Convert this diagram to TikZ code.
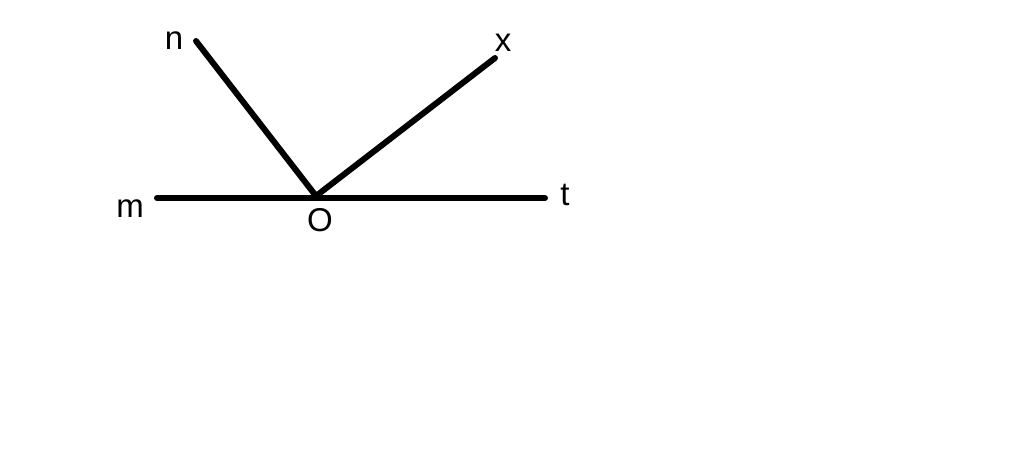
\documentclass[tikz,border=0pt]{standalone}
\usepackage{fontspec}
\setmainfont{Liberation Sans}
\begin{document}
\begin{tikzpicture}[x=1pt,y=-1pt,
  ray/.style={line width=6pt,line cap=round,line join=round},
  lbl/.style={inner sep=0pt,font=\fontsize{33}{33}\selectfont}]
\useasboundingbox (0,0) rectangle (1024,473);
\coordinate (O) at (316,196);
\coordinate (M) at (157,198);
\coordinate (T) at (545,198);
\coordinate (N) at (196,41);
\coordinate (X) at (495,58);
\draw[ray] (M) -- (T);
\draw[ray] (N) -- (O) -- (X);
\node[lbl] (ln) at (174,41) {n};
\node[lbl] (lx) at (503,43) {x};
\node[lbl] (lm) at (130,209) {m};
\node[lbl] (lt) at (565,195) {t};
\node[lbl] (lo) at (320,220) {O};
\end{tikzpicture}
\end{document}
